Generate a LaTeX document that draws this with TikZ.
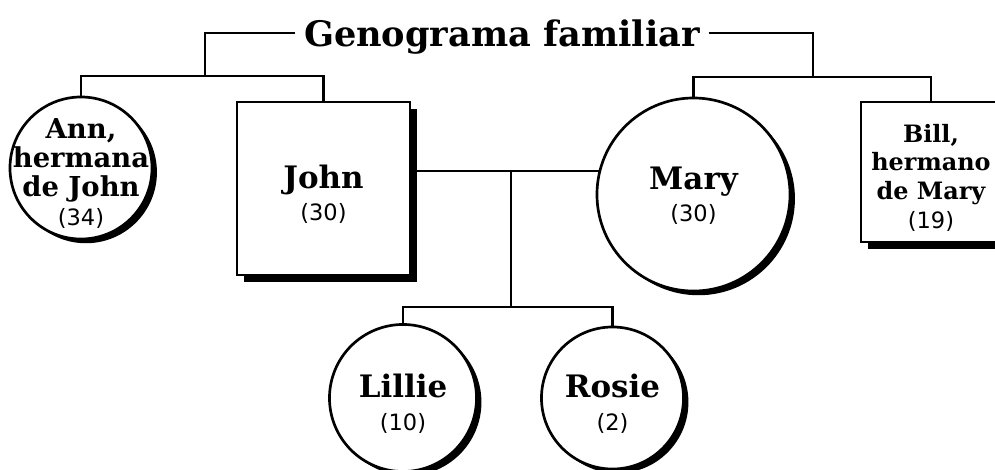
\documentclass[tikz,border=0pt]{standalone}
\usepackage{fontspec}
\setmainfont{DejaVu Serif}
\newfontfamily\agefont{DejaVu Sans}
\usetikzlibrary{positioning,shadows,backgrounds,calc}

\newcommand{\agetag}[1]{{\agefont\mdseries\fontsize{16}{16}\selectfont(#1)}}

\begin{document}
\begin{tikzpicture}[x=0.025cm,y=-0.025cm,
  female/.style={circle,draw,line width=1.9pt,fill=white,inner sep=0pt,
    drop shadow={shadow xshift=3.5pt,shadow yshift=-3pt,opacity=1,fill=black}},
  male/.style={rectangle,draw,line width=1.9pt,fill=white,inner sep=0pt,
    drop shadow={shadow xshift=5pt,shadow yshift=-5pt,opacity=1,fill=black}},
  tie/.style={line width=1.6pt},
  bigname/.style={align=center,inner sep=0pt,yshift=-4pt,font=\bfseries\fontsize{22}{23}\selectfont},
  smallname/.style={align=center,inner sep=0pt,yshift=-4pt,font=\bfseries\fontsize{19.5}{20.6}\selectfont}]
  \clip (0,0) rectangle (995,469);
  \node[font=\bfseries\fontsize{25}{28}\selectfont,text depth=0pt,inner xsep=6pt] (title) at (502,33) {Genograma familiar};
  \node[female,minimum size=3.55cm,
    label={[smallname]center:Ann,\\hermana\\de John\\\agetag{34}}] (ann) at (81,168) {};
  \node[male,minimum size=4.325cm,
    label={[bigname]center:John\\\agetag{30}}] (john) at (323.5,188.5) {};
  \node[female,minimum size=4.825cm,
    label={[bigname,yshift=3pt]center:Mary\\\agetag{30}}] (mary) at (693.5,194.5) {};
  \node[male,minimum size=3.5cm,
    label={[smallname,font=\bfseries\fontsize{17}{20.3}\selectfont]center:Bill,\\hermano\\de Mary\\\agetag{19}}] (bill) at (931,172) {};
  \node[female,minimum size=3.675cm,
    label={[bigname]center:Lillie\\\agetag{10}}] (lillie) at (403,398) {};
  \node[female,minimum size=3.55cm,
    label={[bigname]center:Rosie\\\agetag{2}}] (rosie) at (612.5,398) {};
  \coordinate (lsib) at (205,76);
  \coordinate (rsib) at (813,77);
  \coordinate (kids) at (511,307);
  % lines behind the shapes
  \begin{pgfonlayer}{background}
    \draw[tie] (title.west) -| (lsib);
    \draw[tie] (ann.north) |- (lsib) -| (john.north);
    \draw[tie] (title.east) -| (rsib);
    \draw[tie] (mary.north) |- (rsib) -| (bill.north);
    \draw[tie] (john.east |- mary.166) -- (mary.166);
    \draw[tie] (kids |- mary.166) -- (kids);
    \draw[tie] (lillie.north) |- (kids) -| (rosie.north);
  \end{pgfonlayer}
\end{tikzpicture}
\end{document}
